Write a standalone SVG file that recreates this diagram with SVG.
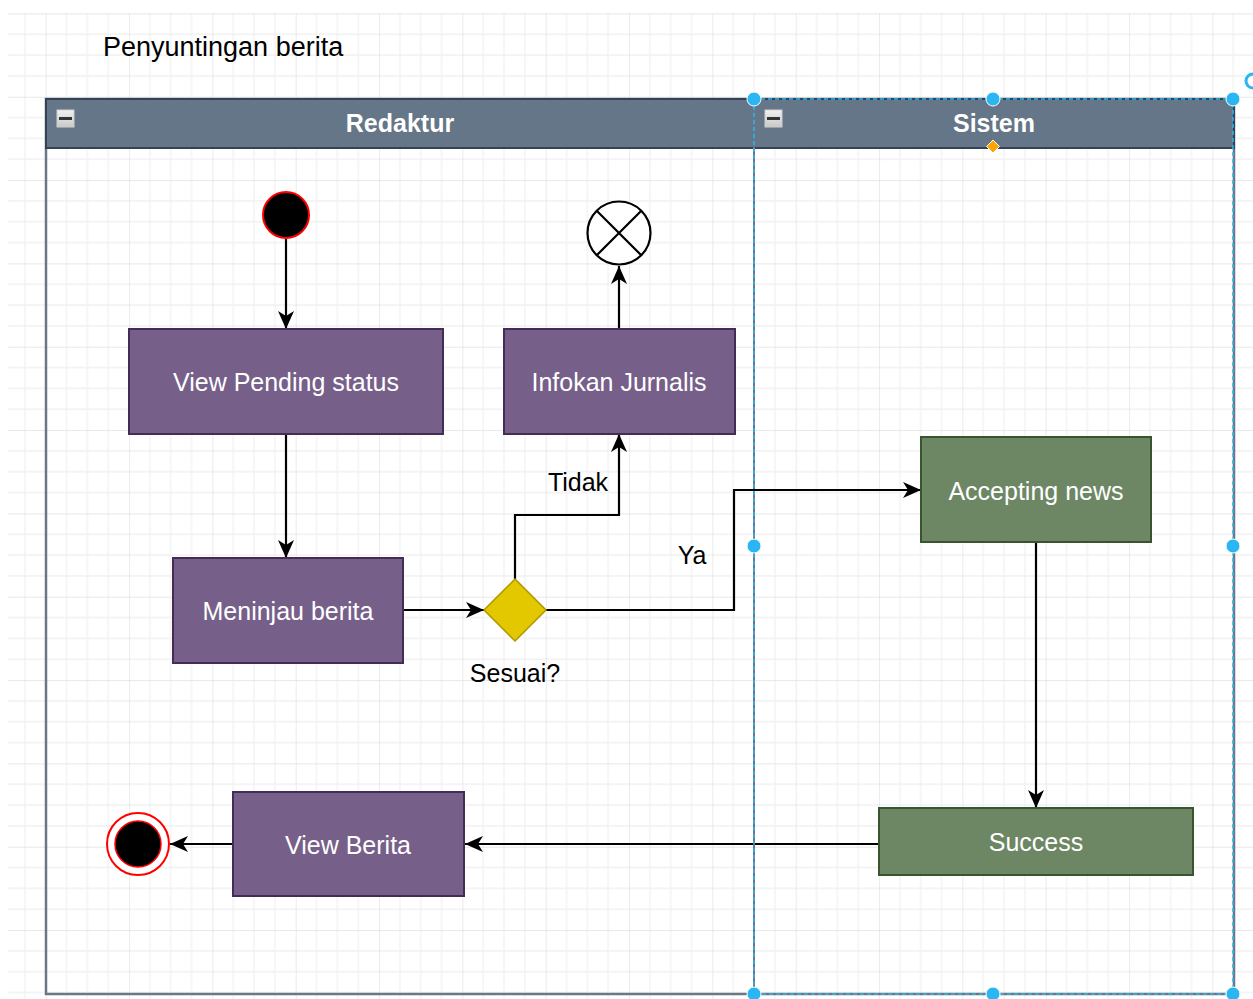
<svg xmlns="http://www.w3.org/2000/svg" width="1253" height="999" viewBox="0 0 1253 999">
  <style>
    .lbl { font-family: "Liberation Sans", Arial, sans-serif; font-size: 25px; }
    .title { font-size: 27px; }
    .white { fill: #ffffff; }
    .dark { fill: #000000; }
    .purple { fill: #76608a; stroke: #432d57; stroke-width: 2; }
    .green { fill: #6d8764; stroke: #3a5431; stroke-width: 2; }
    .edge { fill: none; stroke: #000000; stroke-width: 2.2; }
    .handle { fill: #29b6f2; stroke: #ffffff; stroke-width: 1; }
  </style>
  <defs>
    <pattern id="grid" patternUnits="userSpaceOnUse" x="45.7" y="13.4" width="83.333" height="83.333">
      <path d="M20.83 0V83.333M41.67 0V83.333M62.5 0V83.333M0 20.83H83.333M0 41.67H83.333M0 62.5H83.333" stroke="#f1f1f1" stroke-width="1.3" fill="none"/>
      <path d="M0 0V83.333M0 0H83.333" stroke="#e1e1e1" stroke-width="1.3" fill="none"/>
    </pattern>
    <marker id="arrow" markerUnits="userSpaceOnUse" markerWidth="20" markerHeight="18" refX="18" refY="9" orient="auto">
      <path d="M0,1 L18,9 L0,17 L5,9 Z" fill="#000000"/>
    </marker>
    <linearGradient id="btn" x1="0" y1="0" x2="0" y2="1">
      <stop offset="0" stop-color="#f2f2f2"/>
      <stop offset="1" stop-color="#c8c8c8"/>
    </linearGradient>
  </defs>

  <rect x="0" y="0" width="1253" height="999" fill="#ffffff"/>
  <rect x="8" y="13" width="1245" height="986" fill="url(#grid)"/>

  <text id="title" class="lbl title dark" x="103" y="56">Penyuntingan berita</text>

  <g id="pool">
    <rect x="46" y="99" width="1188" height="895" fill="none" stroke="#6b7785" stroke-width="2.5"/>
    <rect x="46" y="99" width="1188" height="49" fill="#647687" stroke="#314354" stroke-width="2"/>
    <line x1="754" y1="99" x2="754" y2="994" stroke="#6b7785" stroke-width="2"/>
  </g>

  <g id="lane-redaktur">
    <rect x="57" y="110" width="17" height="17" fill="url(#btn)" stroke="#d0d0d0" stroke-width="1"/>
    <rect x="59" y="117" width="13" height="3" fill="#333333"/>
    <text class="lbl white" x="400" y="132" text-anchor="middle" font-weight="bold">Redaktur</text>
  </g>

  <g id="lane-sistem">
    <rect x="765" y="110" width="17" height="17" fill="url(#btn)" stroke="#d0d0d0" stroke-width="1"/>
    <rect x="767" y="117" width="13" height="3" fill="#333333"/>
    <text class="lbl white" x="994" y="132" text-anchor="middle" font-weight="bold">Sistem</text>
  </g>

  <g id="connectors">
    <path class="edge" d="M286 239V329" marker-end="url(#arrow)"/>
    <path class="edge" d="M286 434V558" marker-end="url(#arrow)"/>
    <path class="edge" d="M403 610H484" marker-end="url(#arrow)"/>
    <path class="edge" d="M515 579V515H619V434" marker-end="url(#arrow)"/>
    <path class="edge" d="M619 329V266" marker-end="url(#arrow)"/>
    <path class="edge" d="M546 610H734V490H921" marker-end="url(#arrow)"/>
    <path class="edge" d="M1036 542V808" marker-end="url(#arrow)"/>
    <path class="edge" d="M879 844H465" marker-end="url(#arrow)"/>
    <path class="edge" d="M233 844H170" marker-end="url(#arrow)"/>
    <text class="lbl dark" x="578" y="491" text-anchor="middle">Tidak</text>
    <text class="lbl dark" x="692" y="564" text-anchor="middle">Ya</text>
  </g>

  <g id="start">
    <circle cx="286" cy="215" r="23" fill="#000000" stroke="#ff0000" stroke-width="2"/>
  </g>

  <g id="view-pending">
    <rect class="purple" x="129" y="329" width="314" height="105"/>
    <text class="lbl white" x="286" y="391" text-anchor="middle">View Pending status</text>
  </g>

  <g id="infokan">
    <rect class="purple" x="504" y="329" width="231" height="105"/>
    <text class="lbl white" x="619" y="391" text-anchor="middle">Infokan Jurnalis</text>
  </g>

  <g id="flow-end">
    <circle cx="619" cy="233" r="31.5" fill="#ffffff" stroke="#000000" stroke-width="2.2"/>
    <path d="M596.7 210.7L641.3 255.3M641.3 210.7L596.7 255.3" stroke="#000000" stroke-width="2.2"/>
  </g>

  <g id="meninjau">
    <rect class="purple" x="173" y="558" width="230" height="105"/>
    <text class="lbl white" x="288" y="620" text-anchor="middle">Meninjau berita</text>
  </g>

  <g id="decision">
    <path d="M515 579L546 610L515 641L484 610Z" fill="#e3c800" stroke="#b09500" stroke-width="1.5"/>
    <text class="lbl dark" x="515" y="682" text-anchor="middle">Sesuai?</text>
  </g>

  <g id="accepting">
    <rect class="green" x="921" y="437" width="230" height="105"/>
    <text class="lbl white" x="1036" y="500" text-anchor="middle">Accepting news</text>
  </g>

  <g id="success">
    <rect class="green" x="879" y="808" width="314" height="67"/>
    <text class="lbl white" x="1036" y="851" text-anchor="middle">Success</text>
  </g>

  <g id="view-berita">
    <rect class="purple" x="233" y="792" width="231" height="104"/>
    <text class="lbl white" x="348" y="854" text-anchor="middle">View Berita</text>
  </g>

  <g id="final">
    <circle cx="138" cy="844" r="31" fill="#ffffff" stroke="#ff0000" stroke-width="2"/>
    <circle cx="138" cy="844" r="23" fill="#000000" stroke="#ff0000" stroke-width="1.5"/>
  </g>

  <g id="selection">
    <rect x="754" y="99" width="479" height="895" fill="none" stroke="#29b6f2" stroke-width="1.5" stroke-dasharray="4 3"/>
    <circle class="handle" cx="754" cy="99" r="7"/>
    <circle class="handle" cx="993" cy="99" r="7"/>
    <circle class="handle" cx="1233" cy="99" r="7"/>
    <circle class="handle" cx="754" cy="546" r="7"/>
    <circle class="handle" cx="1233" cy="546" r="7"/>
    <circle class="handle" cx="754" cy="994" r="7"/>
    <circle class="handle" cx="993" cy="994" r="7"/>
    <circle class="handle" cx="1233" cy="994" r="7"/>
    <path d="M993 140L999.5 146.5L993 153L986.5 146.5Z" fill="#ffa500" stroke="#ffffff" stroke-width="1"/>
    <path d="M1253 74A7 7 0 1 0 1253 88" fill="none" stroke="#29b6f2" stroke-width="3"/>
  </g>
</svg>
